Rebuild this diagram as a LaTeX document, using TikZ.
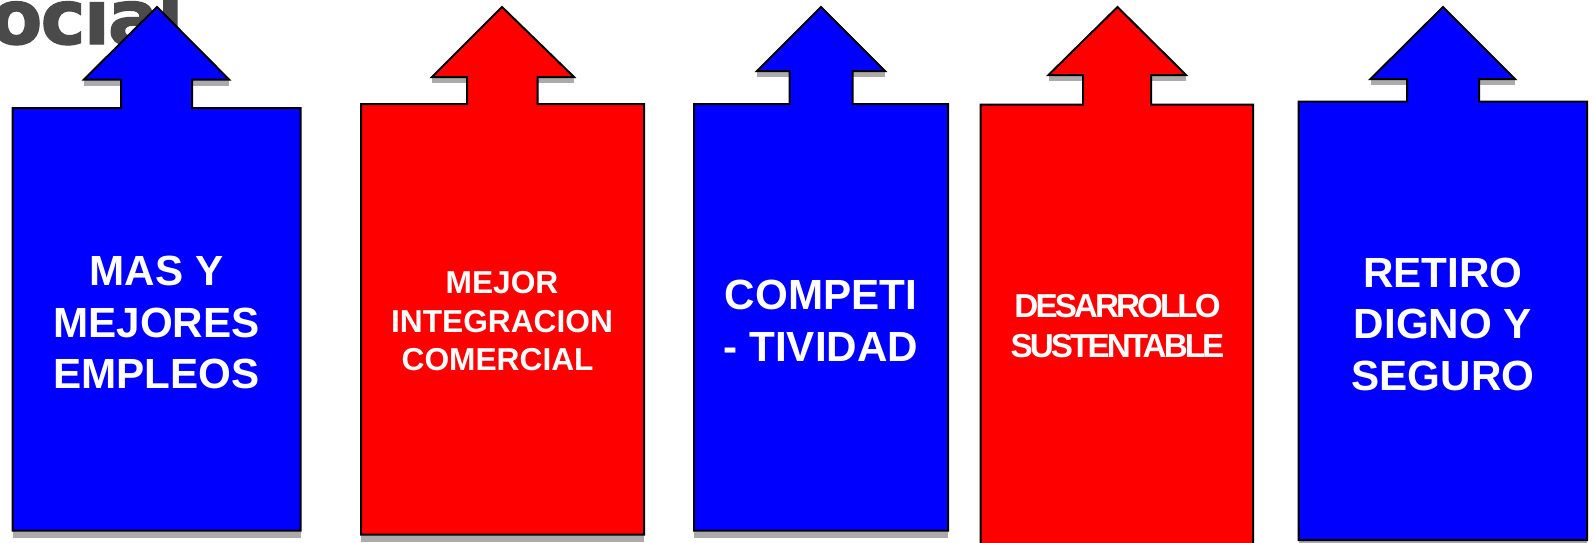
\documentclass[tikz,border=0pt]{standalone}
\usepackage{fontspec}
\setmainfont{Liberation Sans}
\newfontfamily\titlefont[FakeBold=1.6,LetterSpace=-2.5]{DejaVu Sans Bold}
\newfontfamily\tightfont[LetterSpace=-8.8]{Liberation Sans}
\definecolor{shadowgray}{HTML}{ABABAB}
\definecolor{titlegray}{HTML}{4A4A4A}
\definecolor{boxblue}{HTML}{0000FF}
\definecolor{boxred}{HTML}{FF0000}
\tikzset{
  x=1pt,y=-1pt,
  arrowbody/.style={draw=black,line width=2pt,line join=miter},
  shadowbody/.style={fill=shadowgray,draw=none},
  boxlabel/.style 2 args={text=white,align=center,inner sep=0pt,font=\bfseries\fontsize{#1}{#2}\selectfont},
  tightlabel/.style 2 args={text=white,align=center,inner sep=0pt,font=\tightfont\bfseries\fontsize{#1}{#2}\selectfont}
}
% #1 left, #2 right, #3 top, #4 bottom, #5 neck left, #6 neck right, #7 wing y, #8 wing left, #9 wing right
\newcommand{\arrowoutline}[9]{(#1,#3) -- (#5,#3) -- (#5,#7) -- (#8,#7) -- (\apexx,7) -- (#9,#7) -- (#6,#7) -- (#6,#3) -- (#2,#3) -- (#2,#4) -- (#1,#4) -- cycle}
\newcommand{\upbox}[9]{%
  \fill[shadowbody] (#8,#7) rectangle ([yshift=-6pt]#9,#7);
  \fill[shadowbody] (#1,#4) rectangle ([yshift=-7pt]#2,#4);
  \draw[arrowbody,fill=\boxfill] \arrowoutline{#1}{#2}{#3}{#4}{#5}{#6}{#7}{#8}{#9};
}
\begin{document}
\begin{tikzpicture}
\useasboundingbox (0,0) rectangle (1593,542);
\clip (0,0) rectangle (1593,542);
\node[anchor=base west,inner sep=0pt,text=titlegray,font=\titlefont\fontsize{76}{76}\selectfont] (title) at (-10,44) {ocial};

\def\boxfill{boxblue}\def\apexx{157}
\upbox{12.5}{300.5}{108}{530.5}{121}{192}{79.5}{84}{229}
\def\boxfill{boxred}\def\apexx{502}
\upbox{361}{644}{104}{534.5}{467}{537.5}{77}{432}{574}
\def\boxfill{boxblue}\def\apexx{821}
\upbox{694}{948}{104}{530.5}{789.5}{852.5}{71}{757}{885}
\def\boxfill{boxred}\def\apexx{1117.5}
\upbox{980.5}{1253}{104.5}{550}{1083}{1151}{75}{1048.5}{1186}
\def\boxfill{boxblue}\def\apexx{1443}
\upbox{1298.5}{1587}{101.5}{540}{1407}{1479}{79}{1370.5}{1515}

\node[boxlabel={42.2}{51.5}] (empleos) at (156.5,322.5) {MAS Y\\MEJORES\\EMPLEOS};
\node[boxlabel={31.7}{38.5}] (comercial) at (502,321.5) {MEJOR\\INTEGRACION\\COMERCIAL\hspace*{8.8pt}};
\node[boxlabel={42.2}{51.5}] (tividad) at (821,321) {COMPETI\\- TIVIDAD};
\node[tightlabel={33.2}{40.5}] (sustentable) at (1117.5,326) {DESARROLLO\\SUSTENTABLE};
\node[boxlabel={42.2}{51.5}] (seguro) at (1443,324) {RETIRO\\DIGNO Y\\SEGURO};
\end{tikzpicture}
\end{document}
